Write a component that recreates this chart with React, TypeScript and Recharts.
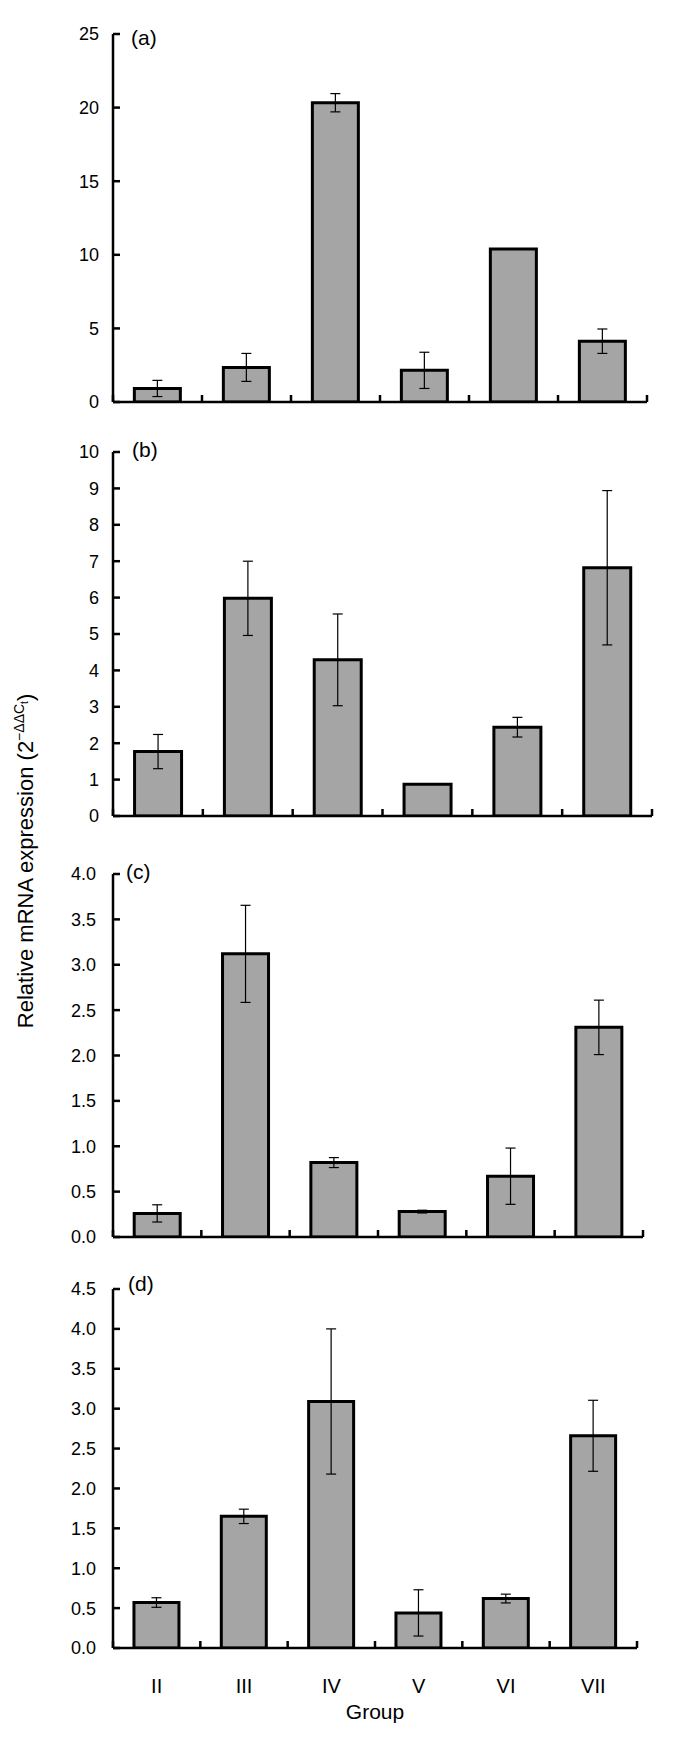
import React from 'react';
import { BarChart, Bar, XAxis, YAxis, ErrorBar } from 'recharts';

// ---------- data ----------
const groups = ['II', 'III', 'IV', 'V', 'VI', 'VII'];

const aValues = [0.92, 2.35, 20.33, 2.15, 10.4, 4.13];
const aErrors = [0.55, 0.95, 0.62, 1.23, 0, 0.83];
const aTicks = [0, 5, 10, 15, 20, 25];

const bValues = [1.77, 5.98, 4.29, 0.87, 2.44, 6.82];
const bErrors = [0.47, 1.02, 1.26, 0, 0.27, 2.12];
const bTicks = [0, 1, 2, 3, 4, 5, 6, 7, 8, 9, 10];

const cValues = [0.26, 3.12, 0.82, 0.28, 0.67, 2.31];
const cErrors = [0.095, 0.535, 0.055, 0.015, 0.31, 0.3];
const cTicks = [0, 0.5, 1, 1.5, 2, 2.5, 3, 3.5, 4];

const dValues = [0.57, 1.65, 3.09, 0.44, 0.62, 2.66];
const dErrors = [0.06, 0.09, 0.91, 0.29, 0.055, 0.445];
const dTicks = [0, 0.5, 1, 1.5, 2, 2.5, 3, 3.5, 4, 4.5];

const panelLabels = ['(a)', '(b)', '(c)', '(d)'];
const yTitle = 'Relative mRNA expression (2';
const xTitle = 'Group';

// ---------- layout ----------
const FONT = '"Liberation Sans", Arial, Helvetica, sans-serif';
const PAGE_W = 683;
const PLOT_LEFT = 113;
const YW = 60;
const XH = 20;
const TICK_LEN = 7;

const layouts = [
  { top: 34, bottom: 402, right: 647, labelX: 131, labelDy: 11, gap: 14, decimals: 0 },
  { top: 452, bottom: 816, right: 652, labelX: 132, labelDy: 5, gap: 14, decimals: 0 },
  { top: 874, bottom: 1237, right: 643, labelX: 126, labelDy: 5, gap: 17, decimals: 1 },
  { top: 1289, bottom: 1648, right: 637, labelX: 128, labelDy: 2, gap: 17, decimals: 1 },
];

const series = [
  { values: aValues, errors: aErrors, ticks: aTicks },
  { values: bValues, errors: bErrors, ticks: bTicks },
  { values: cValues, errors: cErrors, ticks: cTicks },
  { values: dValues, errors: dErrors, ticks: dTicks },
];

const makeRows = (values: number[], errors: number[]) =>
  groups.map((g, i) => ({ g, v: values[i], e: errors[i] }));

function YTick(props: any) {
  const { x, y, payload, decimals, gap } = props;
  return (
    <g>
      <line x1={x} y1={y} x2={x + TICK_LEN} y2={y} stroke="#000" strokeWidth={2.5} />
      <text
        x={x - gap}
        y={y}
        dy="0.36em"
        textAnchor="end"
        fontSize={18}
        fontFamily={FONT}
        fill="#000"
      >
        {Number(payload.value).toFixed(decimals)}
      </text>
    </g>
  );
}

function XTick(props: any) {
  const { x, y, payload, band, showLabels } = props;
  const idx = payload.index ?? groups.indexOf(payload.value);
  const isLast = idx === groups.length - 1;
  const left = x - band / 2;
  const right = x + band / 2;
  return (
    <g>
      <line x1={left} y1={y} x2={left} y2={y - TICK_LEN} stroke="#000" strokeWidth={2.5} />
      {isLast && (
        <line x1={right} y1={y} x2={right} y2={y - TICK_LEN} stroke="#000" strokeWidth={2.5} />
      )}
      {showLabels && (
        <text x={x} y={y + 45} textAnchor="middle" fontSize={20} fontFamily={FONT} fill="#000">
          {payload.value}
        </text>
      )}
    </g>
  );
}

function Panel({ index }: { index: number }) {
  const L = layouts[index];
  const S = series[index];
  const rows = makeRows(S.values, S.errors);
  const padTop = 40;
  const padBottom = 70;
  const chartTop = L.top - padTop;
  const chartH = L.bottom - L.top + padTop + padBottom;
  const band = (L.right - PLOT_LEFT) / groups.length;
  const showLabels = index === series.length - 1;
  const max = S.ticks[S.ticks.length - 1];
  return (
    <div style={{ position: 'absolute', left: 0, top: chartTop, width: PAGE_W, height: chartH }}>
      <BarChart
        width={PAGE_W}
        height={chartH}
        data={rows}
        margin={{
          top: padTop,
          right: PAGE_W - L.right,
          bottom: padBottom - XH,
          left: PLOT_LEFT - YW,
        }}
        barCategoryGap="24%"
      >
        <XAxis
          dataKey="g"
          height={XH}
          interval={0}
          axisLine={{ stroke: '#000', strokeWidth: 2.5 }}
          tickLine={false}
          tickSize={0}
          tickMargin={0}
          tick={(p: any) => <XTick {...p} band={band} showLabels={showLabels} />}
        />
        <YAxis
          type="number"
          width={YW}
          domain={[0, max]}
          ticks={S.ticks}
          interval={0}
          allowDataOverflow
          axisLine={{ stroke: '#000', strokeWidth: 2.5 }}
          tickLine={false}
          tickSize={0}
          tickMargin={0}
          tick={(p: any) => <YTick {...p} decimals={L.decimals} gap={L.gap} />}
        />
        <Bar
          dataKey="v"
          fill="#a5a5a5"
          stroke="#000"
          strokeWidth={3}
          isAnimationActive={false}
        >
          <ErrorBar dataKey="e" width={5} stroke="#000" strokeWidth={1.2} isAnimationActive={false} />
        </Bar>
      </BarChart>
    </div>
  );
}

export default function App() {
  const yCx = 33;
  const yCy = 861;
  return (
    <div
      style={{
        position: 'absolute',
        left: 0,
        top: 0,
        width: PAGE_W,
        height: 1740,
        background: '#fff',
        fontFamily: FONT,
      }}
    >
      {series.map((_, i) => (
        <Panel key={i} index={i} />
      ))}
      <svg
        width={PAGE_W}
        height={1740}
        style={{ position: 'absolute', left: 0, top: 0, pointerEvents: 'none' }}
      >
        {layouts.map((L, i) => (
          <text
            key={i}
            x={L.labelX}
            y={L.top + L.labelDy}
            fontSize={21}
            fontFamily={FONT}
            fill="#000"
          >
            {panelLabels[i]}
          </text>
        ))}
        <text
          x={yCx}
          y={yCy}
          transform={`rotate(-90 ${yCx} ${yCy})`}
          textAnchor="middle"
          fontSize={22}
          fontFamily={FONT}
          fill="#000"
        >
          {yTitle}
          <tspan dy={-9} fontSize={14}>−ΔΔC</tspan>
          <tspan dy={4} fontSize={10}>t</tspan>
          <tspan dy={5} fontSize={22}>)</tspan>
        </text>
        <text x={375} y={1719} textAnchor="middle" fontSize={21} fontFamily={FONT} fill="#000">
          {xTitle}
        </text>
      </svg>
    </div>
  );
}
